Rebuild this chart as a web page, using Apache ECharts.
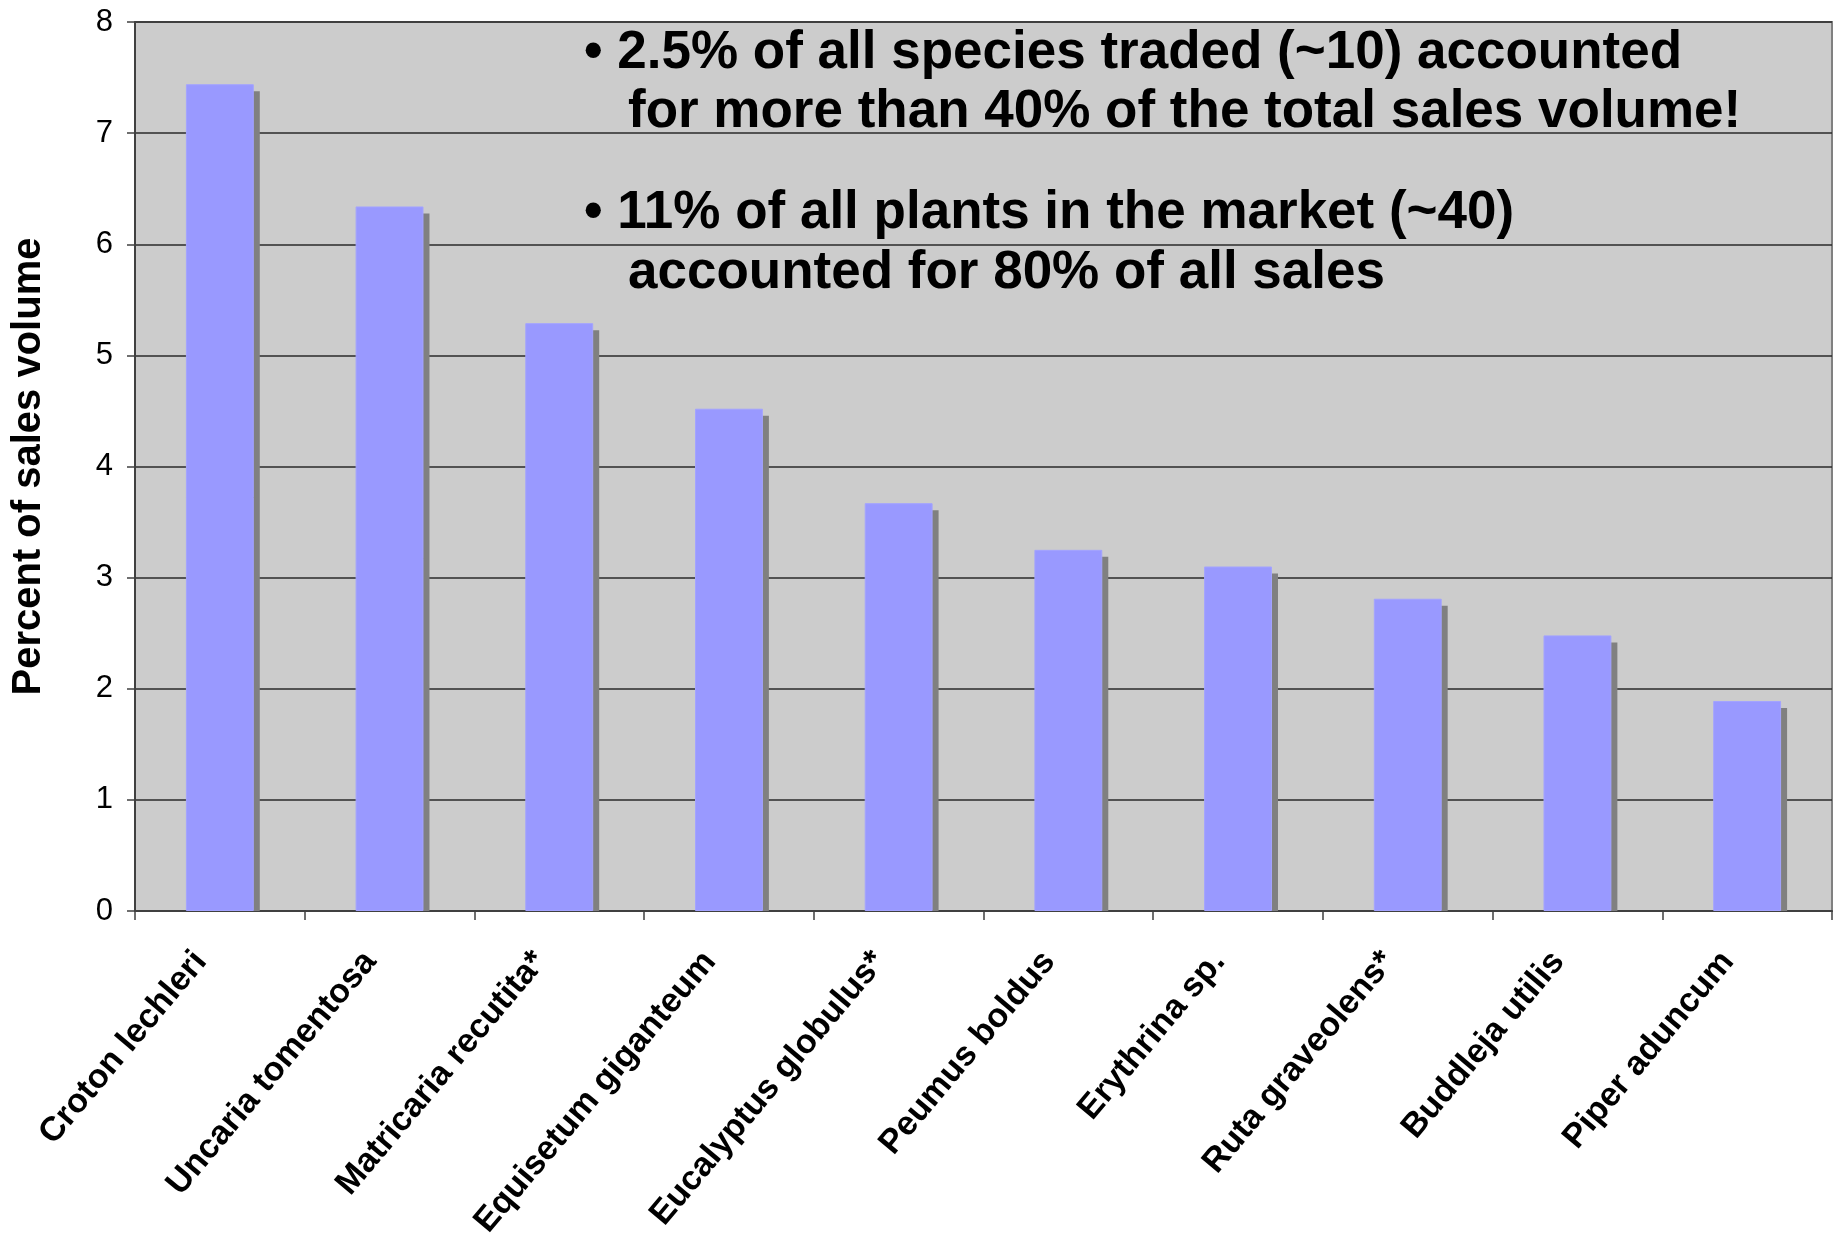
<!DOCTYPE html>
<html>
<head>
<meta charset="utf-8">
<script src="https://cdn.jsdelivr.net/npm/echarts@6/dist/echarts.min.js"></script>
<style>
  html, body { margin: 0; padding: 0; background: #ffffff; }
  #chart { width: 1843px; height: 1233px; }
</style>
</head>
<body>
<div id="chart"></div>
<script>
// species, ordered by share of sales
const species = [
  'Croton lechleri', 'Uncaria tomentosa', 'Matricaria recutita*',
  'Equisetum giganteum', 'Eucalyptus globulus*', 'Peumus boldus',
  'Erythrina sp.', 'Ruta graveolens*', 'Buddleja utilis', 'Piper aduncum'
];
// percent of sales volume
const salesPct = [7.44, 6.34, 5.29, 4.52, 3.67, 3.25, 3.10, 2.81, 2.48, 1.89];

const yTicks = { min: 0, max: 8, interval: 1 };

const notes = [
  '• 2.5% of all species traded (~10) accounted',
  'for more than 40% of the total sales volume!',
  '• 11% of all plants in the market (~40)',
  'accounted for 80% of all sales'
];

const FONT = '"Liberation Sans", Arial, Helvetica, sans-serif';

const chart = echarts.init(document.getElementById('chart'));

// note text positions (px)
const noteX = [584, 628, 584, 628];
const noteY = [57, 116, 217, 277];

const option = {
  backgroundColor: '#ffffff',
  animation: false,
  grid: {
    left: 135, right: 11, top: 22, bottom: 322,
    outerBoundsMode: 'none',
    containLabel: false,
    show: true,
    backgroundColor: '#cccccc',
    borderColor: '#808080',
    borderWidth: 2
  },
  xAxis: {
    type: 'category',
    data: species,
    axisLine: { lineStyle: { color: '#404040', width: 2 } },
    axisTick: { show: true, length: 9, lineStyle: { color: '#404040', width: 1.5 } },
    axisLabel: {
      rotate: 50,
      interval: 0,
      margin: 22,
      padding: [0, 30, 0, 0],
      color: '#000',
      fontFamily: FONT,
      fontWeight: 'bold',
      fontSize: 34
    },
    splitLine: { show: false }
  },
  yAxis: {
    type: 'value',
    min: yTicks.min, max: yTicks.max, interval: yTicks.interval,
    name: 'Percent of sales volume',
    nameLocation: 'middle',
    nameRotate: 90,
    nameGap: 86,
    nameTextStyle: { color: '#000', fontFamily: FONT, fontWeight: 'bold', fontSize: 40 },
    axisLine: { show: true, lineStyle: { color: '#404040', width: 2 } },
    axisTick: { show: true, length: 8, lineStyle: { color: '#404040', width: 1.5 } },
    axisLabel: { margin: 22, color: '#000', fontFamily: FONT, fontSize: 31 },
    splitLine: { show: true, lineStyle: { color: '#2a2a2a', width: 1.5 } }
  },
  series: [
    {
      // drop shadow behind each bar
      type: 'custom',
      z: 2,
      data: salesPct.map((v, i) => [i, v]),
      renderItem(params, api) {
        const top = api.coord([api.value(0), api.value(1)]);
        const base = api.coord([api.value(0), 0]);
        const w = api.size([1, 0])[0] * 0.4;
        return {
          type: 'rect',
          shape: { x: top[0] - w / 2 + 6, y: top[1] + 7, width: w, height: base[1] - top[1] - 7 },
          style: { fill: '#808080' }
        };
      }
    },
    {
      type: 'bar',
      z: 3,
      data: salesPct,
      barWidth: '40%',
      itemStyle: { color: '#9999ff', borderColor: '#a3a3ff', borderWidth: 1 }
    }
  ],
  graphic: notes.map((t, i) => ({
    type: 'text',
    left: noteX[i],
    top: noteY[i] - 30,
    z: 10,
    style: {
      text: t,
      fill: '#000',
      font: 'bold 53px ' + FONT
    }
  }))
};

chart.setOption(option);
</script>
</body>
</html>
